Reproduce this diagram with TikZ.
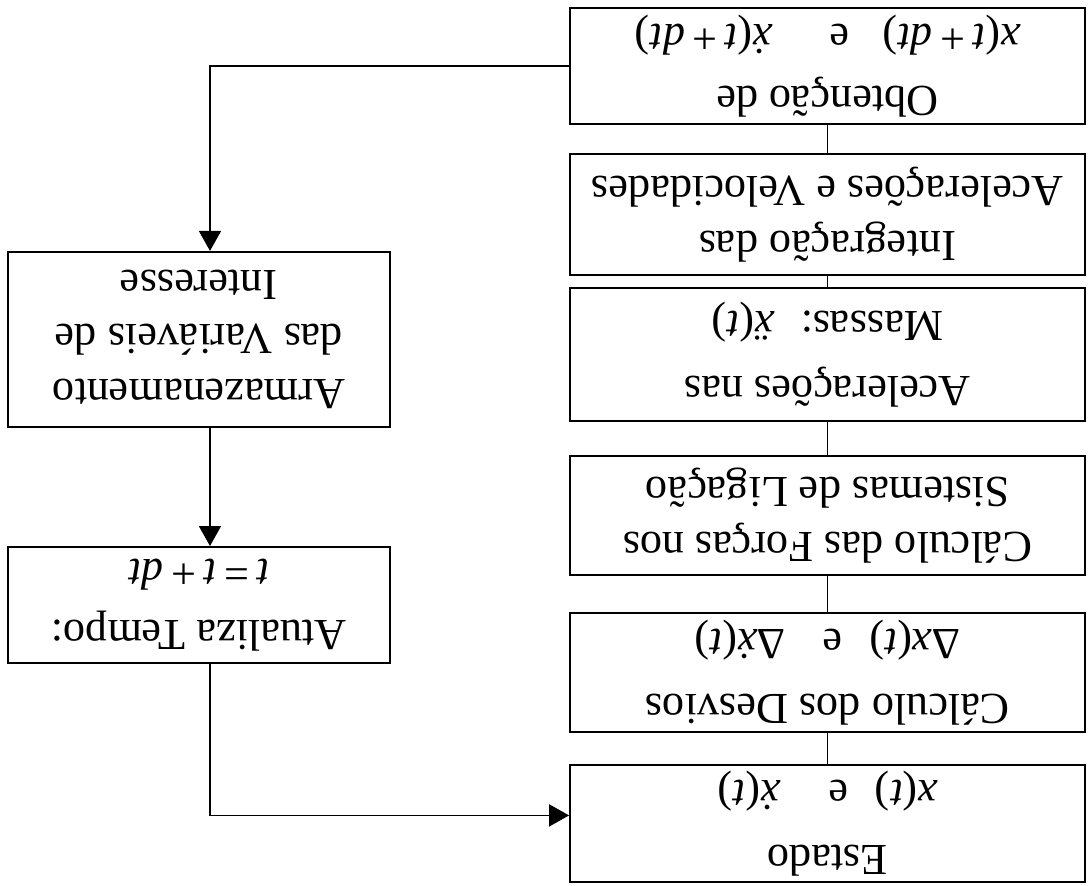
\documentclass[tikz,border=0pt]{standalone}
\usepackage{fontspec}
\setmainfont{Liberation Serif}
\usetikzlibrary{arrows.meta}
\tikzset{
  box/.style={draw, line width=1.4pt, align=center, inner sep=0pt,
    font=\fontsize{31.5}{39}\selectfont},
  mainbox/.style={box, minimum width=12.875cm},
  sidebox/.style={box, minimum width=9.55cm},
  link/.style={line width=1.2pt},
  flow/.style={line width=1.2pt, -{Triangle[length=5mm,width=5.5mm]}}
}
\begin{document}
\begin{tikzpicture}[rotate=180, transform shape]
  \useasboundingbox (0,0) rectangle (27.2,-22.125);

  % Sequencia principal
  \node[mainbox, minimum height=2.925cm] (estado) at (6.51,-1.54)
    {Estado\\[7pt]\textit{x}(\textit{t})\hspace{0.6em}e\hspace{1.1em}\textit{ẋ}(\textit{t})};
  \node[mainbox, minimum height=2.975cm] (desvios) at (6.51,-5.31)
    {Cálculo dos Desvios\\[7pt]Δ\textit{x}(\textit{t})\hspace{0.6em}e\hspace{0.85em}Δ\textit{ẋ}(\textit{t})};
  \node[mainbox, minimum height=2.975cm] (forcas) at (6.51,-9.24)
    {Cálculo das Forças nos\\Sistemas de Ligação};
  \node[mainbox, minimum height=3.325cm] (acel) at (6.51,-13.26)
    {Acelerações nas\\[7pt]Massas:\hspace{0.6em}\textit{ẍ}(\textit{t})};
  \node[mainbox, minimum height=3.025cm] (integ) at (6.51,-16.76)
    {Integração das\\Acelerações e Velocidades};
  \node[mainbox, minimum height=2.9cm] (obtencao) at (6.51,-20.475)
    {Obtenção de\\[5pt]\textit{x}(\textit{t}\,+\,\textit{dt})\hspace{0.75em}e\hspace{1.3em}\textit{ẋ}(\textit{t}\,+\,\textit{dt})};

  % Coluna lateral
  \node[sidebox, minimum height=2.9cm] (tempo) at (22.225,-7.0)
    {Atualiza Tempo:\\[4pt]\textit{t}\,=\,\textit{t}\,+\,\textit{dt}};
  \node[sidebox, minimum height=4.375cm] (armaz) at (22.225,-13.64)
    {Armazenamento\\das Variáveis de\\Interesse};

  % Ligacoes
  \draw[link] (estado) -- (desvios);
  \draw[link] (desvios) -- (forcas);
  \draw[link] (forcas) -- (acel);
  \draw[link] (acel) -- (integ);
  \draw[link] (integ) -- (obtencao);
  \draw[flow] (obtencao.east) -| ([xshift=-0.275cm]armaz.south);
  \draw[flow] ([xshift=-0.275cm]armaz.north) -- ([xshift=-0.275cm]tempo.south);
  \draw[flow] ([xshift=-0.275cm]tempo.north) |- ([yshift=-0.2cm]estado.east);
\end{tikzpicture}
\end{document}
